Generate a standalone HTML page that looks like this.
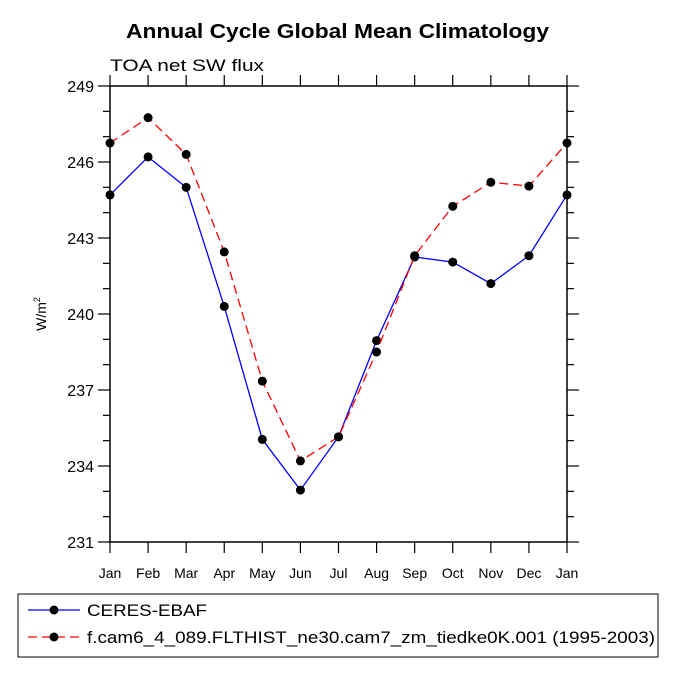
<!DOCTYPE html>
<html><head><meta charset="utf-8"><style>body{margin:0;background:#fff}svg{display:block;font-family:"Liberation Sans",Arial,sans-serif}</style></head>
<body>
<svg id="c" width="675" height="675">
<text x="126" y="38" font-size="20" font-weight="bold" textLength="423" lengthAdjust="spacingAndGlyphs">Annual Cycle Global Mean Climatology</text>
<text x="110" y="71" font-size="17" textLength="154" lengthAdjust="spacingAndGlyphs">TOA net SW flux</text>
<text transform="translate(46,314) rotate(-90)" text-anchor="middle" font-size="14">W/m<tspan font-size="9" dy="-6">2</tspan></text>
<g id="ax"></g><g id="series"></g>
<rect x="18" y="594" width="640" height="63" fill="none" stroke="#000"/>
<g>
<line x1="28" y1="610" x2="80" y2="610" stroke="#0000ff" stroke-width="1.3"/><circle cx="54" cy="610" r="4.5"/>
<text x="87" y="616" font-size="17" textLength="120" lengthAdjust="spacingAndGlyphs">CERES-EBAF</text></g>
<g>
<line x1="28" y1="637" x2="80" y2="637" stroke="#ff0000" stroke-width="1.3" stroke-dasharray="9,5"/><circle cx="54" cy="637" r="4.5"/>
<text x="87" y="643" font-size="17" textLength="568" lengthAdjust="spacingAndGlyphs">f.cam6_4_089.FLTHIST_ne30.cam7_zm_tiedke0K.001 (1995-2003)</text></g>
</svg>
<script>
const months=["Jan","Feb","Mar","Apr","May","Jun","Jul","Aug","Sep","Oct","Nov","Dec","Jan"];
const yTicks=[231,234,237,240,243,246,249];
const ceres=[244.7,246.2,245.0,240.3,235.05,233.05,235.15,238.95,242.25,242.05,241.2,242.3,244.7];
const model=[246.75,247.75,246.3,242.45,237.35,234.2,235.15,238.5,242.3,244.25,245.2,245.05,246.75];
const L=110,R=567,T=86,B=542,ymin=231,ymax=249;
const xs=i=>L+(R-L)*i/12, ys=v=>B-(v-ymin)/(ymax-ymin)*(B-T);
const NS="http://www.w3.org/2000/svg";
function mk(t,a,p){const e=document.createElementNS(NS,t);for(const k in a)e.setAttribute(k,a[k]);p.appendChild(e);return e;}
const ax=document.getElementById('ax');
const frame=mk('rect',{x:L,y:T,width:R-L,height:B-T,fill:'none',stroke:'#000','stroke-width':1.5},ax);


for(let v=ymin;v<=ymax;v++){const y=ys(v),maj=(v-ymin)%3==0,len=maj?12:7;
 mk('line',{x1:L-len,y1:y,x2:L,y2:y,stroke:'#000','stroke-width':1.2},ax);
 mk('line',{x1:R,y1:y,x2:R+len,y2:y,stroke:'#000','stroke-width':1.2},ax);}
yTicks.forEach(v=>{const t=mk('text',{x:L-16,y:ys(v)+6,'text-anchor':'end','font-size':16},ax);t.textContent=v;
 
 });
months.forEach((m,i)=>{const x=xs(i);
 mk('line',{x1:x,y1:B,x2:x,y2:B+11,stroke:'#000','stroke-width':1.2},ax);
 mk('line',{x1:x,y1:T-11,x2:x,y2:T,stroke:'#000','stroke-width':1.2},ax);
 const t=mk('text',{x:x,y:B+36,'text-anchor':'middle','font-size':14},ax);t.textContent=m;
 
 });
const sg=document.getElementById('series');
function series(d,col,dash,name){const g=mk('g',{},sg);
 
 
 mk('polyline',{points:d.map((v,i)=>xs(i)+','+ys(v)).join(' '),fill:'none',stroke:col,'stroke-width':1.3,'stroke-dasharray':dash},g);
 d.forEach((v,i)=>mk('circle',{cx:xs(i),cy:ys(v),r:4.5,fill:'#000'},g));}
series(ceres,'#0000ff','none','series-ceres');
series(model,'#ff0000','9,5','series-model');
</script>
</body></html>
